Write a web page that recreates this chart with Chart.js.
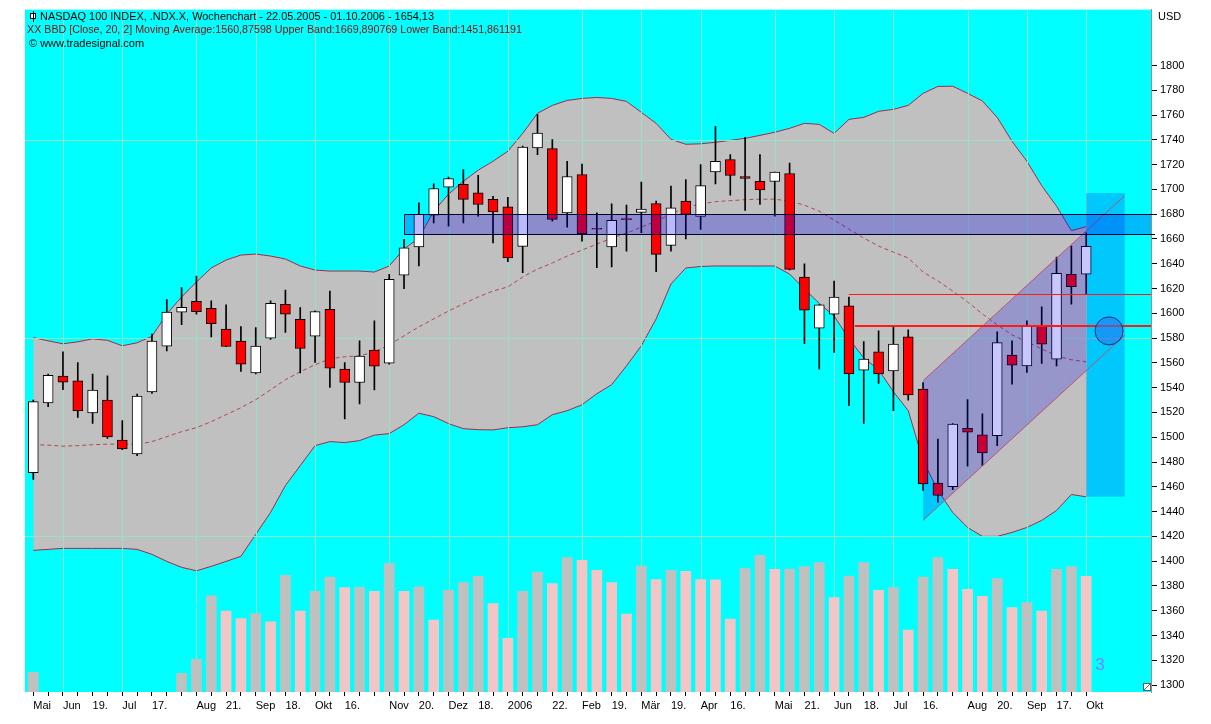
<!DOCTYPE html>
<html>
<head>
<meta charset="utf-8">
<title>NASDAQ 100 INDEX Wochenchart</title>
<script src="https://cdn.jsdelivr.net/npm/chart.js@4.4.1/dist/chart.umd.min.js"></script>
<style>
  html, body { margin: 0; padding: 0; background: #ffffff; }
  #wrap { position: relative; width: 1211px; height: 724px; }
</style>
</head>
<body>
<div id="wrap"><canvas id="chart" width="1211" height="724"></canvas></div>
<script>
// weekly candles, 22.05.2005 - 01.10.2006 (x = week number)
const open = [
  1471.5, 1527.6, 1549.4, 1545.6, 1519.6, 1530, 1497.8, 1486.6, 1536.5, 1573.5,
  1600.9, 1609.7, 1604.1, 1587.2, 1577.5, 1551.8, 1580, 1607.3, 1595.2, 1581.6,
  1603.3, 1555, 1544.2, 1570.3, 1559.8, 1630.7, 1653.5, 1679.2, 1701.8, 1704,
  1697.2, 1691.9, 1685.9, 1654, 1733.4, 1732.9, 1681.1, 1712, 1668.5, 1653.5,
  1676.4, 1681.4, 1688.6, 1654.8, 1690.5, 1678.2, 1714.1, 1724.1, 1710.4, 1706.6,
  1706.4, 1712.8, 1629.3, 1588, 1599.3, 1606, 1554.2, 1569, 1553.6, 1581,
  1538.9, 1463, 1460.2, 1507.2, 1501.9, 1501.3, 1566.3, 1557.6, 1589.9, 1563,
  1631.5, 1631.5
];
const high = [
  1530, 1551, 1569, 1560.3, 1551, 1549.6, 1513.4, 1534.9, 1583.2, 1611,
  1620.7, 1630, 1610, 1606.8, 1589.3, 1588.5, 1610, 1618.8, 1604.6, 1602,
  1618, 1560.3, 1577.8, 1593.9, 1631.5, 1659.7, 1689.1, 1704.4, 1710, 1716,
  1711.4, 1694.5, 1693.7, 1735, 1760.3, 1740.2, 1722.7, 1720.5, 1681.1, 1688.3,
  1687.3, 1706, 1690.5, 1702.6, 1708, 1720, 1750.9, 1728.1, 1742, 1728.1,
  1714, 1721.3, 1640, 1607, 1626.1, 1613.2, 1577.2, 1585.8, 1589.3, 1586.6,
  1544.2, 1498.6, 1511, 1530.3, 1518.8, 1585, 1577.8, 1593.9, 1605.2, 1645.4,
  1654.3, 1665
];
const low = [
  1466, 1524.6, 1538.3, 1516, 1511.2, 1499, 1490, 1485.2, 1535.3, 1569.7,
  1590.9, 1599.3, 1581, 1573, 1553.1, 1551, 1579, 1584.5, 1551.8, 1560.3,
  1540.2, 1514.7, 1526.8, 1538.1, 1559, 1619.9, 1638.2, 1673, 1670.4, 1673,
  1678.4, 1656.9, 1641.6, 1632.8, 1728.1, 1674.4, 1669.6, 1658.3, 1636.8, 1637.4,
  1650.2, 1665, 1633.6, 1650.2, 1660.1, 1667.7, 1704.4, 1695.3, 1683, 1687.8,
  1678.4, 1635, 1575.6, 1555, 1568.4, 1525.4, 1511.2, 1543.4, 1521.4, 1530,
  1457, 1447.6, 1457.6, 1476.6, 1477.1, 1493.2, 1542.9, 1552.3, 1559.5, 1557.6,
  1607.3, 1615.4
];
const close = [
  1528.7, 1550, 1544.5, 1521.2, 1538.1, 1500.2, 1490.6, 1533.3, 1577.5, 1600.9,
  1604.9, 1601.4, 1591.7, 1573.2, 1559, 1573.5, 1608.1, 1599.3, 1571.6, 1601.4,
  1555.8, 1544.2, 1565.5, 1557.4, 1627.5, 1652.9, 1679.8, 1700.7, 1708.8, 1691.9,
  1687.8, 1681.9, 1644.8, 1734.2, 1745.5, 1675.8, 1710.4, 1664.2, 1668, 1675,
  1675.6, 1684.1, 1647.6, 1685.1, 1679.8, 1703.1, 1722.7, 1711.2, 1708.8, 1699.6,
  1713.9, 1635.5, 1602.5, 1606.8, 1613.2, 1551, 1563, 1551, 1575.1, 1534.1,
  1462.4, 1453, 1510.7, 1504, 1487.4, 1576.4, 1558.2, 1589.9, 1575.1, 1632.3,
  1621.5, 1654.1
];

// Bollinger band (Close, 20, 2)
const upperBand = [
  1580.4, 1577.8, 1575.4, 1577.0, 1579.4, 1578.2, 1573.8, 1576.2, 1581.4, 1599.5,
  1613.2, 1625.3, 1636.6, 1643.0, 1647.0, 1647.8, 1646.2, 1643.8, 1638.2, 1634.9,
  1634.1, 1634.1, 1634.1, 1633.3, 1638.2, 1651.9, 1660.7, 1682.4, 1696.1, 1706.6,
  1715.5, 1722.7, 1730.8, 1745.2, 1761.4, 1767.8, 1771.8, 1773.4, 1774.2, 1773.4,
  1771.0, 1762.2, 1753.3, 1740.4, 1736.4, 1736.8, 1738.0, 1739.6, 1741.2, 1743.6,
  1746.1, 1749.3, 1753.3, 1752.5, 1745.2, 1756.5, 1758.1, 1763.0, 1764.6, 1767.8,
  1777.5, 1783.1, 1783.3, 1777.5, 1771.4, 1758.1, 1738.8, 1722.7, 1703.0, 1686.5,
  1666.7, 1669.9
];
const lowerBand = [
  1408.7, 1409.5, 1410.3, 1410.3, 1410.3, 1410.3, 1410.3, 1409.5, 1405.5, 1399.8,
  1395.0, 1392.2, 1395.8, 1399.8, 1403.9, 1421.6, 1439.3, 1461.0, 1477.1, 1493.2,
  1496.5, 1495.7, 1497.3, 1501.7, 1502.9, 1510.1, 1519.4, 1516.6, 1511.0, 1506.9,
  1506.1, 1505.9, 1507.7, 1508.4, 1510.1, 1518.2, 1521.4, 1526.2, 1535.1, 1542.4,
  1557.6, 1573.8, 1595.5, 1623.7, 1636.6, 1637.8, 1638.2, 1638.2, 1638.2, 1638.2,
  1638.2, 1631.7, 1619.6, 1608.0, 1597.9, 1579.4, 1564.1, 1554.4, 1536.7, 1521.4,
  1481.2, 1457.0, 1439.3, 1427.2, 1420.0, 1420.0, 1423.2, 1427.2, 1432.9, 1440.9,
  1453.8, 1451.9
];
const movingAverage = [
  1494.0, 1493.6, 1492.8, 1493.2, 1494.0, 1494.4, 1494.5, 1494.0, 1496.5, 1500.5,
  1504.5, 1507.7, 1512.6, 1518.2, 1523.8, 1530.3, 1538.3, 1546.4, 1552.8, 1558.5,
  1563.3, 1564.9, 1565.7, 1568.9, 1574.6, 1581.8, 1589.1, 1595.5, 1601.9, 1607.6,
  1613.2, 1618.0, 1621.3, 1629.3, 1635.7, 1640.6, 1646.2, 1651.0, 1655.9, 1660.7,
  1664.7, 1669.6, 1674.4, 1680.0, 1685.7, 1688.1, 1690.1, 1690.9, 1691.7, 1692.1,
  1692.1, 1690.5, 1687.3, 1682.4, 1675.2, 1668.0, 1660.7, 1654.3, 1649.4, 1644.6,
  1633.3, 1626.1, 1618.0, 1609.2, 1599.5, 1590.7, 1582.6, 1577.0, 1571.3, 1565.7,
  1562.5, 1560.9
];

// volume (relative units, no scale shown)
const volume = [
  19.7, null, null, null, null, null, null, null, null, null,
  18.7, 32.7, 96.3, 81, 73.7, 78.7, 70.3, 117, 81, 101,
  115.3, 104.7, 105, 101, 128.7, 101, 105.3, 72, 102, 109.7,
  116, 88.7, 53.7, 101, 120.3, 108.7, 134.7, 132, 122, 109.7,
  78, 126.3, 112.7, 122, 121, 112.7, 112.5, 73, 123.7, 137,
  123, 123.3, 125.7, 129.7, 94.7, 116.3, 129.7, 102, 104.7, 62,
  115.3, 134.7, 123, 103, 96, 113.7, 84.7, 89.7, 81, 123,
  125.7, 116
];

// x axis labels (week number -> text), month grid lines
const labelWeeks = [0, 2, 4, 6, 8, 11, 13, 15, 17, 19, 21, 24, 26, 28, 30, 32, 35,
  37, 39, 41, 43, 45, 47, 50, 52, 54, 56, 58, 60, 63, 65, 67, 69, 71];
const labelTexts = ['Mai', 'Jun', '19.', 'Jul', '17.', 'Aug', '21.', 'Sep', '18.', 'Okt',
  '16.', 'Nov', '20.', 'Dez', '18.', '2006', '22.', 'Feb', '19.', 'Mär', '19.', 'Apr', '16.',
  'Mai', '21.', 'Jun', '18.', 'Jul', '16.', 'Aug', '20.', 'Sep', '17.', 'Okt'];
const monthWeeks = [2, 6, 11, 15, 19, 24, 28, 32, 37, 41, 45, 50, 54, 58, 63, 67, 71];
const gridPrices = [1420, 1580, 1740];

// drawing tools
const zone = { from: 25, top: 1680, bottom: 1664 };
const channel = { from: 60, to: 73.6, upperStart: 1545.6, upperEnd: 1695, lowerStart: 1432.9, lowerEnd: 1582.3 };
const strip = { from: 71, to: 73.6, top: 1697, bottom: 1452 };
const redLines = [{ price: 1615.6, from: 55 }, { price: 1590, from: 55.4 }];
const marker = { week: 72.54, price: 1585.8 };

const FONT = '"Liberation Sans", Arial, sans-serif';
const weeks = open.map((_, i) => i);
const labelFor = {};
labelWeeks.forEach((w, i) => { labelFor[w] = labelTexts[i]; });
const yTicks = [];
for (let v = 1300; v <= 1800; v += 20) yTicks.push(v);

const volColors = volume.map((v, i) =>
  (i === 0 || volume[i - 1] == null || v >= volume[i - 1]) ? '#c0c0c0' : '#f2c6c6');

const chartPlugin = {
  id: 'tradesignal',
  beforeDraw(chart) {
    const { ctx, chartArea: a } = chart;
    ctx.save();
    ctx.fillStyle = '#ffffff';
    ctx.fillRect(0, 0, chart.width, chart.height);
    ctx.fillStyle = '#00ffff';
    ctx.fillRect(a.left, a.top, a.right - a.left, a.bottom - a.top);
    ctx.restore();
  },
  afterDatasetDraw(chart, args) {
    // grid goes over the band fill but under the candles
    if (args.index !== 1) return;
    const { ctx, chartArea: a, scales: { x, y } } = chart;
    ctx.save();
    ctx.strokeStyle = '#98e2c4';
    ctx.lineWidth = 1;
    ctx.beginPath();
    monthWeeks.forEach(w => {
      const px = Math.round(x.getPixelForValue(w)) + 0.5;
      ctx.moveTo(px, a.top); ctx.lineTo(px, a.bottom);
    });
    gridPrices.forEach(p => {
      const py = Math.round(y.getPixelForValue(p)) + 0.5;
      ctx.moveTo(a.left, py); ctx.lineTo(a.right, py);
    });
    ctx.stroke();
    ctx.restore();
  },
  afterDatasetsDraw(chart) {
    const { ctx, chartArea: a, scales: { x, y } } = chart;
    const X = v => x.getPixelForValue(v);
    const Y = v => y.getPixelForValue(v);
    const sx = Math.round(X(strip.from));
    ctx.save();
    ctx.beginPath();
    ctx.rect(a.left, a.top, a.right - a.left, a.bottom - a.top);
    ctx.clip();

    // trend channel fill (up to the projection strip)
    ctx.save();
    ctx.beginPath();
    ctx.rect(a.left, a.top, sx - a.left, a.bottom - a.top);
    ctx.clip();
    ctx.beginPath();
    ctx.moveTo(X(channel.from), Y(channel.upperStart));
    ctx.lineTo(X(channel.to), Y(channel.upperEnd));
    ctx.lineTo(X(channel.to), Y(channel.lowerEnd));
    ctx.lineTo(X(channel.from), Y(channel.lowerStart));
    ctx.closePath();
    ctx.fillStyle = 'rgba(0,0,240,0.22)';
    ctx.fill();
    ctx.restore();

    // projection strip
    ctx.fillStyle = 'rgba(0,0,240,0.22)';
    ctx.fillRect(sx, Y(strip.top), X(strip.to) - sx, Y(strip.bottom) - Y(strip.top));

    // channel edges
    ctx.strokeStyle = '#c05070';
    ctx.lineWidth = 1;
    ctx.beginPath();
    ctx.moveTo(X(channel.from), Y(channel.upperStart));
    ctx.lineTo(X(channel.to), Y(channel.upperEnd));
    ctx.moveTo(X(channel.from), Y(channel.lowerStart));
    ctx.lineTo(X(channel.to), Y(channel.lowerEnd));
    ctx.stroke();

    // horizontal zone
    const zx = Math.round(X(zone.from)) + 0.5;
    const zt = Math.round(Y(zone.top)) + 0.5;
    const zb = Math.round(Y(zone.bottom)) + 0.5;
    ctx.fillStyle = 'rgba(0,0,240,0.27)';
    ctx.fillRect(zx, zt, a.right - zx, zb - zt);
    ctx.restore();

    ctx.save();
    ctx.strokeStyle = '#000033';
    ctx.lineWidth = 1;
    ctx.beginPath();
    ctx.moveTo(a.right + 4, zt); ctx.lineTo(zx, zt); ctx.lineTo(zx, zb); ctx.lineTo(a.right + 4, zb);
    ctx.stroke();

    // red lines
    ctx.strokeStyle = '#ff1a1a';
    redLines.forEach((l, i) => {
      ctx.lineWidth = i === 0 ? 1 : 2;
      const py = Math.round(Y(l.price)) + (i === 0 ? 0.5 : 0);
      ctx.beginPath();
      ctx.moveTo(X(l.from), py); ctx.lineTo(a.right, py);
      ctx.stroke();
    });

    // circle marker
    ctx.beginPath();
    ctx.arc(X(marker.week), Y(marker.price), 14, 0, Math.PI * 2);
    ctx.fillStyle = 'rgba(40,120,240,0.6)';
    ctx.fill();
    ctx.lineWidth = 1;
    ctx.strokeStyle = '#103070';
    ctx.stroke();
    ctx.restore();
  },
  afterDraw(chart) {
    const { ctx, chartArea: a } = chart;
    ctx.save();
    ctx.font = '11px ' + FONT;
    ctx.textBaseline = 'middle';
    // header
    ctx.fillStyle = '#ffffff';
    ctx.fillRect(30, 13, 6, 6);
    ctx.strokeStyle = '#000';
    ctx.lineWidth = 1;
    ctx.strokeRect(30.5, 13.5, 5, 5);
    ctx.beginPath(); ctx.moveTo(33.5, 11); ctx.lineTo(33.5, 22); ctx.stroke();
    ctx.fillStyle = '#000000';
    ctx.fillText('NASDAQ 100 INDEX, .NDX.X, Wochenchart - 22.05.2005 - 01.10.2006 - 1654,13', 40, 17, 394);
    ctx.fillStyle = '#8b0a0a';
    ctx.fillText('XX BBD [Close, 20, 2] Moving Average:1560,87598 Upper Band:1669,890769 Lower Band:1451,861191', 27, 30, 495);
    ctx.fillStyle = '#000000';
    ctx.fillText('\u00a9 www.tradesignal.com', 29, 44);
    ctx.fillText('USD', 1158, 17);
    // pane number
    ctx.font = '17px ' + FONT;
    ctx.fillStyle = '#8080ff';
    ctx.textAlign = 'center';
    ctx.fillText('3', 1100, 665);
    // resize grip
    ctx.fillStyle = '#ffffff';
    ctx.fillRect(a.right - 8, a.bottom - 9, 8, 8);
    ctx.strokeStyle = '#606060';
    ctx.strokeRect(a.right - 7.5, a.bottom - 8.5, 7, 7);
    ctx.beginPath(); ctx.moveTo(a.right - 7, a.bottom - 2); ctx.lineTo(a.right - 1, a.bottom - 8); ctx.stroke();
    ctx.restore();
  }
};

new Chart(document.getElementById('chart'), {
  type: 'bar',
  data: {
    datasets: [
      {
        type: 'line', label: 'Upper Band', order: 20,
        data: weeks.map(i => ({ x: i, y: upperBand[i] })),
        borderColor: '#a82848', borderWidth: 1, pointRadius: 0,
        backgroundColor: '#c0c0c0', fill: '+1', tension: 0
      },
      {
        type: 'line', label: 'Lower Band', order: 19,
        data: weeks.map(i => ({ x: i, y: lowerBand[i] })),
        borderColor: '#a82848', borderWidth: 1, pointRadius: 0, fill: false, tension: 0
      },
      {
        type: 'line', label: 'Moving Average', order: 18,
        data: weeks.map(i => ({ x: i, y: movingAverage[i] })),
        borderColor: '#b04848', borderWidth: 1, borderDash: [4, 3], pointRadius: 0, fill: false
      },
      {
        type: 'bar', label: 'Volume', order: 17, yAxisID: 'yv', grouped: false,
        data: weeks.map(i => ({ x: i, y: volume[i] })),
        backgroundColor: volColors, barThickness: 10, borderWidth: 0
      },
      {
        type: 'bar', label: 'High/Low', order: 2, grouped: false,
        data: weeks.map(i => ({ x: i, y: [low[i], high[i]] })),
        backgroundColor: '#000000', barThickness: 1, borderWidth: 0
      },
      {
        type: 'bar', label: 'Open/Close', order: 1, grouped: false,
        data: weeks.map(i => ({ x: i, y: [open[i], close[i]] })),
        backgroundColor: weeks.map(i => close[i] >= open[i] ? '#ffffff' : '#ff0000'),
        borderColor: '#000000', borderWidth: 1, borderSkipped: false, barThickness: 10
      }
    ]
  },
  options: {
    responsive: false,
    animation: false,
    layout: { padding: { left: 25, top: 8, right: 0, bottom: 0 } },
    plugins: { legend: { display: false }, tooltip: { enabled: false } },
    scales: {
      x: {
        type: 'linear', min: -0.56, max: 75.37, offset: false,
        afterBuildTicks: s => { s.ticks = weeks.map(v => ({ value: v })); },
        afterFit: s => { s.height = 32; },
        ticks: {
          autoSkip: false, maxRotation: 0, minRotation: 0, align: 'start', padding: 3,
          color: '#000000', font: { family: FONT, size: 11 },
          callback: v => labelFor[v] || ''
        },
        grid: { drawOnChartArea: false, drawTicks: true, tickLength: 4, tickColor: '#000000', offset: false },
        border: { display: false }
      },
      y: {
        position: 'right', min: 1294.4, max: 1845.1,
        afterBuildTicks: s => { s.ticks = yTicks.map(v => ({ value: v })); },
        afterFit: s => { s.width = 60; },
        ticks: { color: '#000000', font: { family: FONT, size: 11 }, padding: 3, callback: v => String(v) },
        grid: { drawOnChartArea: false, tickLength: 6, tickColor: '#000000' },
        border: { display: true, color: '#909090', dash: [1, 2] }
      },
      yv: { display: false, min: 0, max: 684 }
    }
  },
  plugins: [chartPlugin]
});
</script>
</body>
</html>
